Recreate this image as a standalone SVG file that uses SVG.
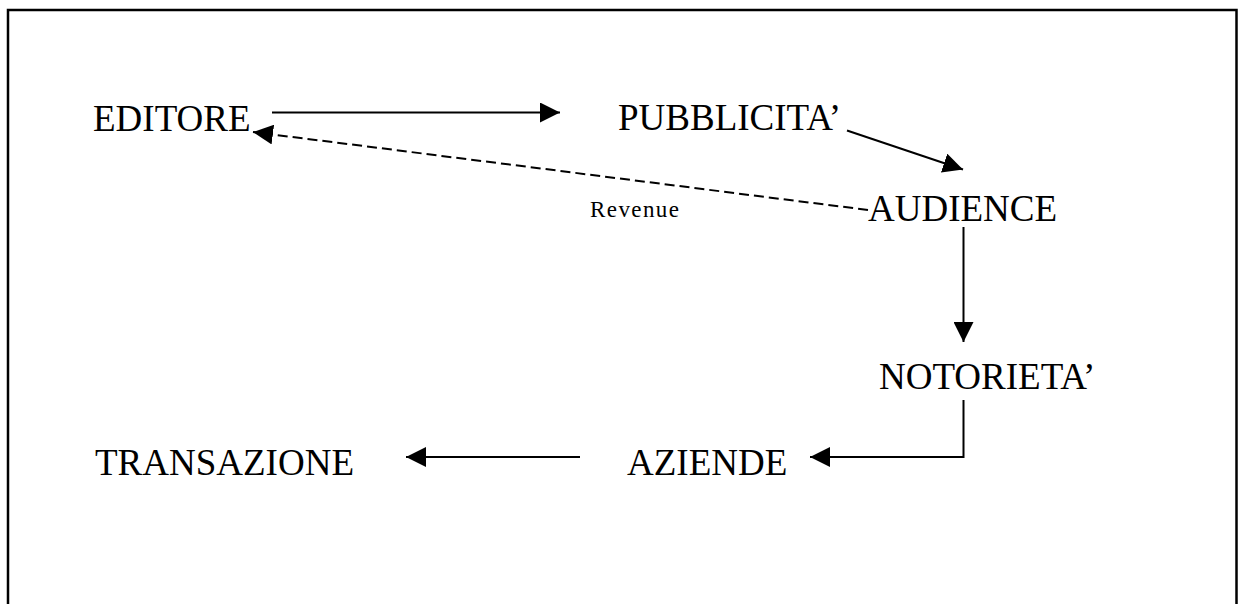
<svg xmlns="http://www.w3.org/2000/svg" width="1239" height="604" viewBox="0 0 1239 604">
  <style>
    .label { font-family: "Liberation Serif", "Times New Roman", serif; font-size: 37px; fill: #000; }
    .small { font-family: "Liberation Serif", "Times New Roman", serif; font-size: 23px; fill: #000; }
    .edge { stroke: #000; stroke-width: 2; fill: none; }
    .dashed { stroke-dasharray: 10 5; }
    .frame { stroke: #000; stroke-width: 2.5; fill: none; }
  </style>
  <defs>
    <marker id="head" markerUnits="userSpaceOnUse" markerWidth="20" markerHeight="20" refX="20" refY="10" orient="auto">
      <path d="M0,0 L20,10 L0,20 Z" fill="#000"/>
    </marker>
  </defs>

  <rect width="1239" height="604" fill="#fff"/>
  <!-- page frame, open at the bottom -->
  <path class="frame" d="M8,606 V10 H1236.5 V606"/>

  <g id="connectors">
    <line class="edge" x1="272" y1="112.5" x2="560" y2="112.5" marker-end="url(#head)"/>
    <line class="edge" x1="847" y1="130.5" x2="963" y2="169.5" marker-end="url(#head)"/>
    <line class="edge dashed" x1="868" y1="210" x2="253" y2="132" marker-end="url(#head)"/>
    <line class="edge" x1="963.5" y1="227" x2="963.5" y2="342" marker-end="url(#head)"/>
    <polyline class="edge" points="963.5,400 963.5,457 810,457" marker-end="url(#head)"/>
    <line class="edge" x1="580" y1="457" x2="406" y2="457" marker-end="url(#head)"/>
    <text class="small" x="590" y="217" textLength="89" lengthAdjust="spacing">Revenue</text>
  </g>

  <g id="editore"><text class="label" x="93" y="131">EDITORE</text></g>
  <g id="pubblicita"><text class="label" x="618" y="130">PUBBLICITA’</text></g>
  <g id="audience"><text class="label" x="868" y="221">AUDIENCE</text></g>
  <g id="notorieta"><text class="label" x="879" y="389">NOTORIETA’</text></g>
  <g id="aziende"><text class="label" x="627" y="475">AZIENDE</text></g>
  <g id="transazione"><text class="label" x="95" y="475">TRANSAZIONE</text></g>
</svg>
